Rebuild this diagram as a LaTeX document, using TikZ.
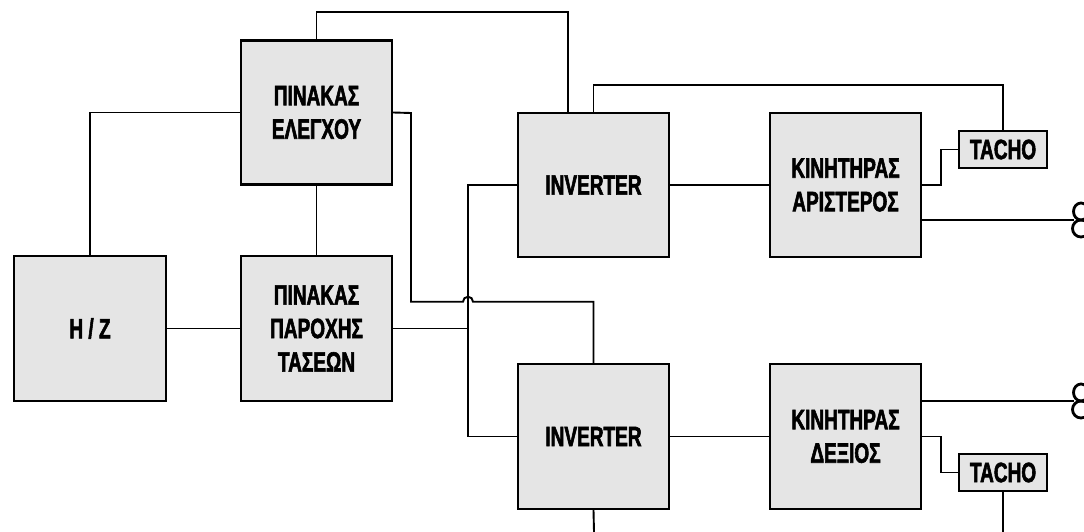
\documentclass[tikz,border=0pt]{standalone}
\usepackage{fontspec}
\newfontfamily\lblfont{Liberation Sans}[FakeStretch=0.68, FakeBold=2]
\definecolor{boxfill}{HTML}{E5E5E5}
\tikzset{
  unit/.style={draw=black, fill=boxfill, line width=2.3pt, inner sep=0pt,
    align=center, font=\lblfont\bfseries\fontsize{28}{33.5}\selectfont},
  block/.style={unit, minimum width=151pt, minimum height=144pt},
  sensor/.style={unit, minimum width=88pt, minimum height=37pt},
  wire/.style={draw=black, line width=1.9pt, line cap=rect},
  coupling/.style={draw=black, line width=2.8pt}
}
\begin{document}
\begin{tikzpicture}[x=1pt, y=-1pt]
\useasboundingbox (0,0) rectangle (1084,532);

% blocks
\node[block] (ctl)  at (316.5,112.5) {ΠΙΝΑΚΑΣ\\ΕΛΕΓΧΟΥ};
\node[block, minimum width=152pt, minimum height=145pt] (gen) at (90,328.5) {H / Z};
\node[block, minimum height=145pt] (sup) at (316.5,328.5) {ΠΙΝΑΚΑΣ\\ΠΑΡΟΧΗΣ\\ΤΑΣΕΩΝ};
\node[block] (inv1) at (593.5,185) {INVERTER};
\node[block, minimum height=145pt] (inv2) at (593.5,436.5) {INVERTER};
\node[block] (motA) at (845.5,185) {ΚΙΝΗΤΗΡΑΣ\\ΑΡΙΣΤΕΡΟΣ};
\node[block, minimum height=145pt] (motD) at (845.5,436.5) {ΚΙΝΗΤΗΡΑΣ\\ΔΕΞΙΟΣ};
\node[sensor] (tach1) at (1003,149.5) {TACHO};
\node[sensor] (tach2) at (1003,472.5) {TACHO};

% bend and end points
\coordinate (ctlR)  at (411,113);
\coordinate (cross) at (411,301.7);
\coordinate (busT)  at (468,185);
\coordinate (busB)  at (468,436.5);
\coordinate (shaftA) at (1073,220);
\coordinate (shaftD) at (1073,401);
\coordinate (botA) at (594,532);
\coordinate (botB) at (1003,532);

% control panel links
\draw[wire] (ctl.north) -- ++(0,-27) -| ([xshift=-25.5pt]inv1.north);
\draw[wire] (ctl.west) -| (gen.north);
\draw[wire] (ctl.south) -- (sup.north);
\draw[wire] (ctl.east) -- (ctlR) -- (cross) -- (463,301.7)
  arc[start angle=180, end angle=360, radius=5] -- (cross -| inv2.north) -- (inv2.north);

% power distribution
\draw[wire] (gen.east) -- (sup.west);
\draw[wire] (sup.east) -- (sup.east -| busT);
\draw[wire] (inv1.west) -- (busT) -- (busB) -- (inv2.west);

% drives
\draw[wire] (inv1.east) -- (motA.west);
\draw[wire] (inv2.east) -- (motD.west);
\draw[wire] (inv1.north) -- ++(0,-27) -| (tach1.north);
\draw[wire] (inv2.south) -- (botA);

% motor outputs and tachometers
\draw[wire] (motA.east) -- ++(19,0) |- (tach1.west);
\draw[wire] (motD.east) -- ++(19,0) |- (tach2.west);
\draw[wire] (tach2.south) -- (botB);
\draw[wire] ([yshift=-35pt]motA.east) -- (shaftA);
\draw[wire] ([yshift=35.5pt]motD.east) -- (shaftD);

% shaft couplings
\draw[coupling] (1081,211.5) ellipse[x radius=7.5, y radius=8.5];
\draw[coupling] (1081,228.5) ellipse[x radius=8.5, y radius=8.5];
\draw[coupling] (1081,392.5) ellipse[x radius=7.5, y radius=8.5];
\draw[coupling] (1081,409.5) ellipse[x radius=8.5, y radius=8.5];
\end{tikzpicture}
\end{document}
